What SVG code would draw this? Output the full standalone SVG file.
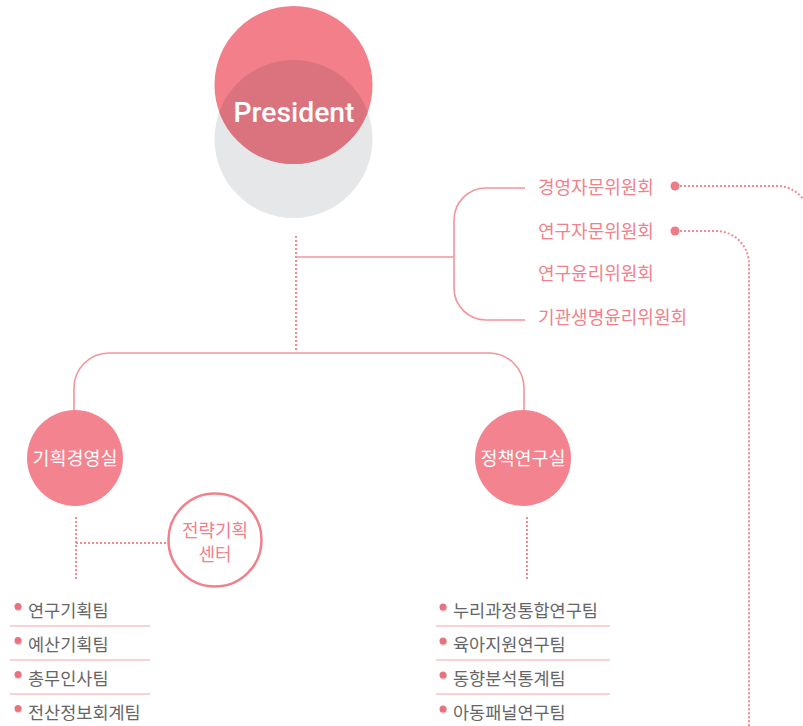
<svg xmlns="http://www.w3.org/2000/svg" width="803" height="726" viewBox="0 0 803 726">
<style>
.ln{fill:none;stroke:#f4939c;stroke-width:1.6}
.dot{fill:none;stroke:#f28a94;stroke-width:2;stroke-dasharray:2 2}
.cm{font-family:"Noto Sans CJK KR","Noto Sans",sans-serif;font-size:18px;fill:#f0828c}
.ct{font-family:"Noto Sans CJK KR","Noto Sans",sans-serif;font-size:18.5px;fill:#ffffff;text-anchor:middle}
.tm{font-family:"Noto Sans CJK KR","Noto Sans",sans-serif;font-size:17.5px;fill:#666666}
.sep{stroke:#f5a3aa;stroke-width:1.2}
.bl{fill:#e8737e}
.bs{fill:#dddddd}
</style>
<defs>
<clipPath id="gc"><circle cx="293.5" cy="139" r="79"/></clipPath>
</defs>
<g id="connectors">
<path class="dot" d="M296 236 V352"/>
<path class="ln" d="M296 257 H454"/>
<path class="ln" d="M525 188 H486 A32 32 0 0 0 454 220 V288 A32 32 0 0 0 486 320 H525"/>
<path class="ln" d="M74 410 V388 A35 35 0 0 1 109 353 H489 A35 35 0 0 1 524 388 V410"/>
<path class="dot" d="M680 186 H777 A32 32 0 0 1 805 202"/>
<path class="dot" d="M680 231 H716 A33 33 0 0 1 749 264 V726"/>
<path class="dot" d="M76 517 V581"/>
<path class="dot" d="M76 543 H168"/>
<path class="dot" d="M527 517 V581"/>
<circle cx="675" cy="186" r="4.5" fill="#ef7b87"/>
<circle cx="675" cy="231" r="4.5" fill="#ef7b87"/>
</g>
<g id="president">
<circle cx="293.5" cy="139" r="79" fill="#e6e7e8"/>
<circle cx="293.5" cy="85" r="79" fill="#f27f8a"/>
<circle cx="293.5" cy="85" r="79" fill="#da737d" clip-path="url(#gc)"/>
<text x="294" y="122" font-family="Roboto,'Open Sans',sans-serif" font-size="28" font-weight="500" fill="#ffffff" text-anchor="middle" textLength="121" lengthAdjust="spacingAndGlyphs">President</text>
</g>
<g id="committees">
<text class="cm" x="538" y="193.5">경영자문위원회</text>
<text class="cm" x="538" y="237.5">연구자문위원회</text>
<text class="cm" x="538" y="279.5">연구윤리위원회</text>
<text class="cm" x="538" y="323.5">기관생명윤리위원회</text>
</g>
<g id="planning">
<circle cx="75" cy="458" r="48" fill="#f3838e"/>
<text class="ct" x="75" y="464.5">기획경영실</text>
</g>
<g id="policy">
<circle cx="523" cy="458" r="48" fill="#f3838e"/>
<text class="ct" x="523" y="464.5">정책연구실</text>
</g>
<g id="strategy">
<circle cx="215" cy="540" r="46.5" fill="#ffffff" stroke="#f0808b" stroke-width="2.5"/>
<text class="cm" x="215" y="537" text-anchor="middle" font-size="17.5">전략기획</text>
<text class="cm" x="215" y="561" text-anchor="middle" font-size="17.5">센터</text>
</g>
<g id="team-left">
<line class="sep" x1="10" y1="626" x2="150" y2="626"/>
<line class="sep" x1="10" y1="660" x2="150" y2="660"/>
<line class="sep" x1="10" y1="694" x2="150" y2="694"/>
<circle class="bs" cx="18.5" cy="608" r="3.5"/><circle class="bl" cx="18" cy="606.5" r="3.5"/>
<circle class="bs" cx="18.5" cy="642" r="3.5"/><circle class="bl" cx="18" cy="640.5" r="3.5"/>
<circle class="bs" cx="18.5" cy="676" r="3.5"/><circle class="bl" cx="18" cy="674.5" r="3.5"/>
<circle class="bs" cx="18.5" cy="710" r="3.5"/><circle class="bl" cx="18" cy="708.5" r="3.5"/>
<text class="tm" x="28" y="616.5">연구기획팀</text>
<text class="tm" x="28" y="650.5">예산기획팀</text>
<text class="tm" x="28" y="684.5">총무인사팀</text>
<text class="tm" x="28" y="718.5">전산정보회계팀</text>
</g>
<g id="team-right">
<line class="sep" x1="436" y1="626" x2="610" y2="626"/>
<line class="sep" x1="436" y1="660" x2="610" y2="660"/>
<line class="sep" x1="436" y1="694" x2="610" y2="694"/>
<circle class="bs" cx="443.5" cy="608.5" r="3.5"/><circle class="bl" cx="443" cy="607" r="3.5"/>
<circle class="bs" cx="443.5" cy="642.5" r="3.5"/><circle class="bl" cx="443" cy="641" r="3.5"/>
<circle class="bs" cx="443.5" cy="676.5" r="3.5"/><circle class="bl" cx="443" cy="675" r="3.5"/>
<circle class="bs" cx="443.5" cy="710.5" r="3.5"/><circle class="bl" cx="443" cy="709" r="3.5"/>
<text class="tm" x="453" y="616.5">누리과정통합연구팀</text>
<text class="tm" x="453" y="650.5">육아지원연구팀</text>
<text class="tm" x="453" y="684.5">동향분석통계팀</text>
<text class="tm" x="453" y="718.5">아동패널연구팀</text>
</g>
</svg>
